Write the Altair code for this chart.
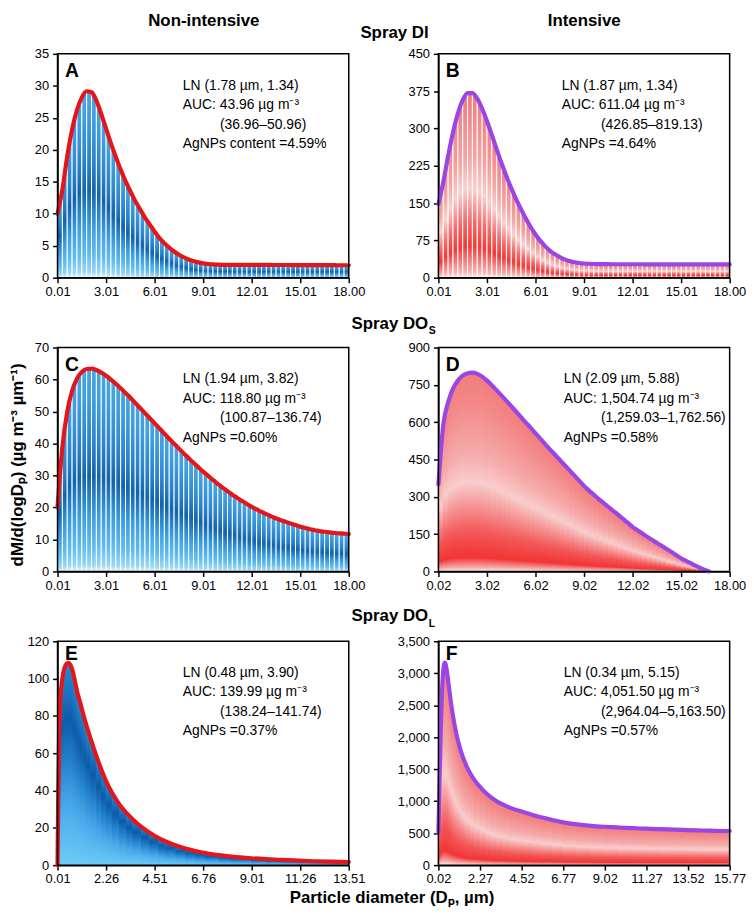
import altair as alt
import pandas as pd

FONT = "Liberation Sans"
W, H = 294, 226

# ---------------- data ----------------
GRID_18 = [round(0.01 + 0.3 * i, 2) for i in range(60)] + [18.0]

A_Y = [10.0, 13.8, 19.0, 23.2, 26.2, 28.2, 29.15, 29.0, 27.7, 25.6,
       23.3, 21.0, 18.9, 16.9, 15.1, 13.5, 12.0, 10.7, 9.4, 8.3,
       7.2, 6.2, 5.4, 4.7, 4.1, 3.6, 3.2, 2.85, 2.6, 2.4,
       2.25, 2.15, 2.08, 2.04, 2.02, 2.01, 2.0, 2.0, 2.0, 2.0,
       2.0, 2.0, 2.0, 2.0, 2.0, 1.99, 1.99, 1.99, 1.98, 1.98,
       1.98, 1.97, 1.97, 1.97, 1.96, 1.96, 1.96, 1.96, 1.95, 1.95, 1.95]

B_Y = [148, 192, 245, 292, 330, 357, 371, 371, 360, 340,
       315, 287, 258, 230, 204, 180, 158, 138, 119, 102,
       87, 74, 63, 54, 47, 41.5, 37, 33.5, 31, 29.5,
       28.6, 28.0, 27.6, 27.4, 27.3, 27.2, 27.1, 27.1, 27.0, 27.0,
       27.0, 27.0, 27.0, 26.9, 26.9, 26.9, 26.9, 26.9, 26.9, 26.8,
       26.8, 26.8, 26.8, 26.8, 26.8, 26.8, 26.7, 26.7, 26.7, 26.7, 26.7]

C_Y = [20, 39, 50, 56.5, 60.3, 62.4, 63.3, 63.4, 63.0, 62.2,
       61.2, 60.0, 58.7, 57.3, 55.8, 54.3, 52.7, 51.1, 49.5, 47.9,
       46.3, 44.7, 43.1, 41.5, 39.9, 38.4, 36.9, 35.4, 34.0, 32.6,
       31.2, 29.9, 28.6, 27.4, 26.2, 25.1, 24.0, 23.0, 22.0, 21.1,
       20.2, 19.4, 18.6, 17.9, 17.2, 16.6, 16.0, 15.5, 15.0, 14.5,
       14.0, 13.6, 13.2, 12.9, 12.6, 12.4, 12.2, 12.0, 11.9, 11.8, 11.7]

D_X = [round(0.02 + 0.3 * i, 2) for i in range(56)] + [16.72]
D_Y = [350, 590, 680, 735, 768, 787, 797, 799, 794, 783,
       767, 748, 728, 707, 686, 664, 642, 620, 598, 577,
       555, 533, 511, 490, 469, 448, 427, 406, 385, 364,
       343, 325, 308, 291, 275, 259, 243, 227, 211, 195,
       178, 165, 152, 139, 126, 114, 102, 90, 78, 65,
       52, 42, 32, 22, 13, 5, 0]

E_X = [0.01, 0.04, 0.08, 0.13, 0.19, 0.26, 0.34, 0.43, 0.51, 0.60,
       0.70, 0.80, 0.92, 1.05, 1.20, 1.36, 1.55, 1.81, 2.05, 2.26,
       2.55, 2.88, 3.20, 3.50, 3.90, 4.26, 4.70, 5.00, 5.50, 5.94,
       6.40, 6.86, 7.50, 8.08, 9.00, 9.70, 10.38, 11.20, 11.90, 12.70, 13.51]
E_Y = [0, 35, 68, 86, 96, 102, 106, 108, 108.5, 107.5,
       104.5, 99.5, 93, 87.5, 81, 74.5, 67.5, 58.5, 51, 45,
       38.5, 32.5, 28, 24.5, 20.5, 17.5, 14.5, 12.8, 10.5, 8.9,
       7.6, 6.5, 5.4, 4.6, 3.7, 3.2, 2.8, 2.4, 2.1, 1.9, 1.7]

F_X = [0.02, 0.07, 0.12, 0.17, 0.22, 0.27, 0.32, 0.37, 0.42, 0.47,
       0.57, 0.67, 0.77, 0.87, 0.97, 1.12, 1.27, 1.42, 1.57, 1.77,
       1.97, 2.27, 2.57, 2.87, 3.17, 3.52, 3.87, 4.27, 4.67, 5.12,
       5.57, 6.17, 6.77, 7.52, 8.27, 9.02, 9.77, 10.52, 11.27, 12.02,
       12.77, 13.52, 14.27, 15.02, 15.77]
F_Y = [500, 1150, 1800, 2350, 2750, 3000, 3130, 3165, 3130, 3050,
       2830, 2600, 2400, 2230, 2080, 1900, 1750, 1630, 1530, 1420,
       1330, 1225, 1130, 1060, 1000, 945, 900, 860, 825, 785,
       750, 705, 668, 637, 615, 600, 588, 578, 570, 562,
       555, 548, 542, 537, 532]

TICKS_A = [0.01, 3.01, 6.01, 9.01, 12.01, 15.01, 18.0]
TICKS_D = [0.02, 3.02, 6.02, 9.02, 12.02, 15.02, 18.0]
TICKS_E = [0.01, 2.26, 4.51, 6.76, 9.01, 11.26, 13.51]
TICKS_F = [0.02, 2.27, 4.52, 6.77, 9.02, 11.27, 13.52, 15.77]

ANN = {
    "A": ["LN (1.78 µm, 1.34)", "AUC: 43.96 µg m⁻³", "(36.96–50.96)", "AgNPs content =4.59%"],
    "B": ["LN (1.87 µm, 1.34)", "AUC: 611.04 µg m⁻³", "(426.85–819.13)", "AgNPs =4.64%"],
    "C": ["LN (1.94 µm, 3.82)", "AUC: 118.80 µg m⁻³", "(100.87–136.74)", "AgNPs =0.60%"],
    "D": ["LN (2.09 µm, 5.88)", "AUC: 1,504.74 µg m⁻³", "(1,259.03–1,762.56)", "AgNPs =0.58%"],
    "E": ["LN (0.48 µm, 3.90)", "AUC: 139.99 µg m⁻³", "(138.24–141.74)", "AgNPs =0.37%"],
    "F": ["LN (0.34 µm, 5.15)", "AUC: 4,051.50 µg m⁻³", "(2,964.04–5,163.50)", "AgNPs =0.57%"],
}

# ---------------- styles ----------------
def grad(stops):
    return alt.LinearGradient(
        gradient="linear", x1=0, x2=0, y1=1, y2=0,
        stops=[alt.GradientStop(color=c, offset=o) for o, c in stops])

BLUE_AC = grad([(0.0, "#eef9fe"), (0.03, "#9ad8f6"), (0.12, "#62bdee"), (0.28, "#3b9ce0"),
                (0.47, "#1263ad"), (0.62, "#2a82cc"), (0.85, "#3f9de0"), (1.0, "#4aa6e3")])
BLUE_E = grad([(0.0, "#6ccbf8"), (0.30, "#47a8e8"), (0.50, "#2684d0"), (0.72, "#0c5ba7"),
               (0.86, "#1b74c3"), (1.0, "#2c88d3")])
RED_B = grad([(0.0, "#fdf0f0"), (0.03, "#f8b4b4"), (0.17, "#f13a3a"), (0.30, "#f46a6a"),
              (0.48, "#f9d2d2"), (0.65, "#f5a4a4"), (1.0, "#f07a7a")])
RED_DF = grad([(0.0, "#fff3f3"), (0.02, "#f8aaaa"), (0.07, "#f23434"), (0.20, "#f35858"),
               (0.45, "#f9cccc"), (0.60, "#f6a9a9"), (0.85, "#f38888"), (1.0, "#f27c7c")])
RED_LINE = "#e3161c"
PURPLE_LINE = "#9b45e4"

ORIGIN = {"A": (57.3, 50.0), "B": (441.8, 50.0), "C": (57.3, 346.5),
          "D": (441.8, 346.5), "E": (57.3, 643.0), "F": (441.8, 643.0)}


def txt(s, x, y, size=14, bold=False, align="left", baseline="alphabetic", angle=0):
    kw = dict(align=align, baseline=baseline, font=FONT, fontSize=size,
              fontWeight="bold" if bold else "normal", color="black")
    if angle:
        kw["angle"] = angle
    return alt.Chart(pd.DataFrame({"t": [s]})).mark_text(**kw).encode(
        x=alt.value(x), y=alt.value(y), text="t:N")


def atxt(key, s, ax, ay, **kw):
    ox, oy = ORIGIN[key]
    return txt(s, ax - ox, ay - oy, **kw)


def panel(key, xs, ys, xdom, xticks, ymax, ystep, fill, lcol, stripes, letter_base, extras=()):
    pts = pd.DataFrame({"x": xs, "y": ys})
    # one slice per interval between neighbouring points (both end points re-used)
    seg_rows = []
    for i in range(len(xs) - 1):
        seg_rows.append({"seg": i, "x": xs[i], "y": ys[i]})
        seg_rows.append({"seg": i, "x": xs[i + 1], "y": ys[i + 1]})
    segs = pd.DataFrame(seg_rows)
    yvals = list(range(0, ymax + 1, ystep))
    xsc = alt.Scale(domain=xdom, nice=False, zero=False)
    ysc = alt.Scale(domain=[0, ymax], nice=False)
    xax = alt.Axis(values=xticks, format=".2f", title=None, labelOverlap=False,
                   labelFlush=False, tickCount=len(xticks))
    yax = alt.Axis(values=yvals, format=",d", title=None, labelOverlap=False,
                   labelFlush=False, tickCount=len(yvals), labelSeparation=0)
    slices = alt.Chart(segs).mark_area(
        fill=fill, stroke="white" if stripes else fill,
        strokeWidth=1.0, interpolate="linear").encode(
        x=alt.X("x:Q", scale=xsc, axis=xax),
        y=alt.Y("y:Q", scale=ysc, axis=yax), y2=alt.datum(0),
        detail="seg:N")
    line = alt.Chart(pts).mark_line(
        color=lcol, strokeWidth=4.2, interpolate="monotone",
        strokeJoin="round", strokeCap="round").encode(
        x=alt.X("x:Q", scale=xsc, axis=xax), y=alt.Y("y:Q", scale=ysc, axis=yax))
    frame = alt.Chart(pd.DataFrame({"f": [0]})).mark_rect(
        fillOpacity=0, stroke="black", strokeWidth=1.5).encode(
        x=alt.value(0), x2=alt.value(W), y=alt.value(0), y2=alt.value(H))
    lines = ANN[key]
    lx = 124.5 if key == "B" else 126.5
    texts = [
        txt(key, 7.5, letter_base, size=19.5, bold=True),
        txt(lines[0], lx, 36, size=14),
        txt(lines[1], lx, 55.5, size=14),
        txt(lines[2], 164, 75.5, size=14),
        txt(lines[3], lx, 95, size=14),
    ]
    return alt.layer(slices, line, frame, *texts, *extras).properties(width=W, height=H)


extras_A = [
    txt(" ", 8 - ORIGIN["A"][0], 8 - ORIGIN["A"][1], size=10, baseline="top"),
    atxt("A", "Non-intensive", 205, 22, size=17, bold=True, align="center"),
    atxt("A", "Spray DI", 397.5, 34, size=17, bold=True, align="center"),
]
extras_B = [atxt("B", "Intensive", 589, 22, size=17, bold=True, align="center")]
extras_C = [
    atxt("C", "Spray DO", 431.5, 327.5, size=17, bold=True, align="right"),
    atxt("C", "S", 432, 332.5, size=10.5, bold=True, align="left"),
    atxt("C", "dM/d(logDₚ) (µg m⁻³ µm⁻¹)", 17, 465, size=17, bold=True,
         align="center", baseline="middle", angle=270),
]
extras_E = [
    atxt("E", "Spray DO", 431.5, 623, size=17, bold=True, align="right"),
    atxt("E", "L", 432, 628.3, size=10.5, bold=True, align="left"),
    atxt("E", "Particle diameter (Dₚ, µm)", 395, 907, size=17, bold=True, align="center"),
]

pA = panel("A", GRID_18, A_Y, [0.01, 18.0], TICKS_A, 35, 5, BLUE_AC, RED_LINE, True, 23, extras_A)
pB = panel("B", GRID_18, B_Y, [0.01, 18.0], TICKS_A, 450, 75, RED_B, PURPLE_LINE, True, 23.3, extras_B)
pC = panel("C", GRID_18, C_Y, [0.01, 18.0], TICKS_A, 70, 10, BLUE_AC, RED_LINE, True, 23.5, extras_C)
pD = panel("D", D_X, D_Y, [0.02, 18.0], TICKS_D, 900, 150, RED_DF, PURPLE_LINE, False, 23.5)
pE = panel("E", E_X, E_Y, [0.01, 13.51], TICKS_E, 120, 20, BLUE_E, RED_LINE, False, 19, extras_E)
pF = panel("F", F_X, F_Y, [0.02, 15.77], TICKS_F, 3500, 500, RED_DF, PURPLE_LINE, False, 19)

chart = alt.ConcatChart(
    concat=[pA, pB, pC, pD, pE, pF], columns=2,
    spacing=alt.RowColnumber(row=70.5, column=90.5), bounds="flush",
).properties(
    padding=0, background="white"
).configure_axis(
    labelFont=FONT, labelFontSize=13, labelColor="black",
    domainColor="black", domainWidth=1.5, tickColor="black", tickWidth=1.5,
    tickSize=5, grid=False, zindex=1, labelFlush=False, labelOverlap=False,
).configure_axisX(labelPadding=3).configure_axisY(labelPadding=4).configure_view(stroke=None)

chart.save("out.html", embed_options={"renderer": "svg", "actions": False})
